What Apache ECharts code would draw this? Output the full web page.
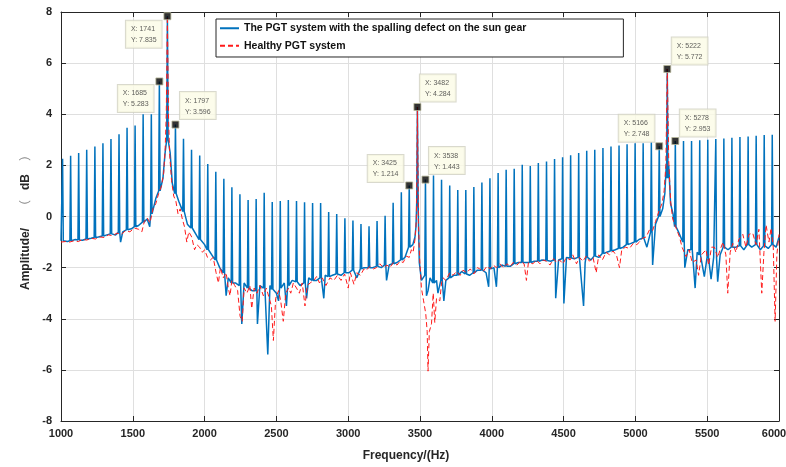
<!DOCTYPE html>
<html>
<head>
<meta charset="utf-8">
<script src="https://cdn.jsdelivr.net/npm/echarts@6/dist/echarts.min.js"></script>
<style>
html,body{margin:0;padding:0;background:#fff;}
#c{width:786px;height:467px;}
</style>
</head>
<body>
<div id="c"></div>
<script>
// ---------- DATA ----------
const xTicks = [1000,1500,2000,2500,3000,3500,4000,4500,5000,5500,6000];
const yTicks = [-8,-6,-4,-2,0,2,4,6,8];
const seriesNames = ['The PGT system with the spalling defect on the sun gear','Healthy PGT system'];

// sideband spikes of the faulty system (frequency, peak height, trough level at the spike)
const sbFreq = [1011,1067,1123,1179,1236,1292,1348,1404,1460,1516,1572,1629,1685,1741,
  1797,1853,1909,1966,2022,2078,2134,2190,2246,2303,2359,2415,2471,2527,2583,2640,2696,2752,2808,2864,2920,2977,3033,3089,3145,3201,3257,3313,3370,3425,3482,
  3538,3594,3650,3707,3763,3819,3875,3931,3987,4044,4100,4156,4212,4268,4324,4381,4437,4493,4549,4605,4661,4717,4774,4830,4886,4942,4998,5054,5111,5166,5222,
  5278,5335,5391,5448,5504,5560,5616,5672,5728,5785,5841,5897,5953];
const sbPeak = [2.26,2.38,2.48,2.61,2.74,2.87,3.03,3.22,3.47,3.56,4.0,4.0,5.283,7.835,
  3.596,3.04,2.61,2.39,2.05,1.75,1.48,1.14,0.87,0.65,0.68,0.93,0.57,0.61,0.65,0.61,0.56,0.53,0.53,0.18,0.1,-0.07,-0.16,-0.29,-0.38,-0.18,0.03,0.54,0.95,1.214,4.284,
  1.443,1.6,1.44,1.21,1.04,1.04,1.15,1.33,1.5,1.7,1.83,1.87,2.02,1.98,2.09,2.15,2.25,2.32,2.4,2.48,2.57,2.61,2.68,2.74,2.78,2.83,2.87,2.87,2.9,2.748,5.772,
  2.953,2.95,2.95,2.98,3.0,3.03,3.05,3.08,3.11,3.13,3.16,3.19,3.2];
const sbFloor = [-0.95,-0.95,-0.92,-0.88,-0.82,-0.76,-0.68,-0.62,-0.52,-0.4,-0.22,0.1,1.0,3.0,
  0.9,0.2,-0.45,-0.9,-1.3,-1.7,-2.2,-2.6,-2.7,-2.8,-2.9,-2.8,-2.85,-2.8,-2.7,-2.55,-2.6,-2.5,-2.4,-2.35,-2.25,-2.2,-2.1,-2.05,-2.0,-1.95,-1.9,-1.85,-1.7,-1.2,0.5,
  -2.3,-2.6,-2.5,-2.4,-2.3,-2.25,-2.2,-2.1,-2.05,-2.0,-1.95,-1.85,-1.8,-1.8,-1.75,-1.72,-1.7,-1.65,-1.62,-1.6,-1.6,-1.55,-1.45,-1.35,-1.25,-1.1,-1.0,-0.85,-0.6,0.0,1.5,
  -0.4,-1.0,-1.3,-1.5,-1.6,-1.6,-1.2,-1.2,-1.15,-1.1,-1.1,-1.15,-1.1];
// background of the faulty-system spectrum between the spikes [Hz, dB]
const blueNoise = [[1000,-0.95],[1045,-0.98],[1100,-0.9],[1150,-0.93],[1210,-0.85],[1260,-0.8],[1320,-0.72],[1380,-0.72],[1415,-1.0],[1430,-0.6],
  [1490,-0.48],[1540,-0.35],[1600,-0.1],[1618,-0.4],[1660,0.7],[1710,1.5],[1725,2.5],[1760,2.5],[1775,1.3],[1820,0.6],[1880,-0.3],[1940,-0.7],
  [2000,-1.1],[2050,-1.5],[2105,-2.0],[2150,-3.1],[2165,-2.4],[2215,-2.6],[2259,-4.2],[2275,-2.6],[2330,-2.9],[2368,-4.2],[2385,-2.7],[2440,-5.4],
  [2455,-2.7],[2500,-3.0],[2515,-3.3],[2555,-2.6],[2570,-3.5],[2610,-2.5],[2665,-2.7],[2710,-3.2],[2725,-2.4],[2780,-2.5],[2830,-3.2],[2840,-2.3],
  [2890,-2.3],[2950,-2.3],[3005,-2.2],[3060,-2.4],[3110,-2.0],[3170,-2.0],[3230,-2.0],[3267,-2.5],[3285,-1.9],[3340,-1.8],[3395,-1.6],[3450,-1.1],
  [3465,-0.8],[3472,-0.4],[3495,-1.8],[3510,-2.5],[3545,-3.1],[3556,-2.9],[3570,-2.4],[3615,-2.5],[3625,-3.0],[3666,-3.3],[3680,-2.5],[3735,-2.3],
  [3790,-2.15],[3845,-2.3],[3900,-2.1],[3960,-2.2],[3978,-2.75],[4015,-2.0],[4032,-2.75],[4070,-1.9],[4128,-1.95],[4185,-1.8],[4240,-1.8],
  [4295,-1.75],[4350,-1.7],[4410,-1.75],[4445,-3.2],[4465,-1.7],[4502,-3.4],[4520,-1.6],[4575,-1.65],[4639,-3.5],[4650,-1.8],[4690,-1.7],
  [4745,-1.6],[4800,-1.4],[4860,-1.3],[4915,-1.2],[4970,-1.05],[5025,-0.9],[5080,-1.2],[5120,-1.9],[5140,-0.3],[5190,0.3],[5205,0.9],[5215,2.0],
  [5232,2.0],[5245,0.5],[5262,0.1],[5300,-0.6],[5344,-2.0],[5365,-1.3],[5416,-2.8],[5430,-1.4],[5480,-2.35],[5527,-2.45],[5545,-1.6],[5573,-2.55],
  [5590,-1.5],[5645,-1.3],[5700,-1.2],[5755,-1.3],[5810,-1.2],[5870,-1.3],[5925,-1.25],[5980,-1.2],[6000,-0.8]];
// healthy system spectrum [Hz, dB]
const healthy = [[1000,-1.0],[1030,-0.98],[1060,-1.0],[1090,-0.95],[1120,-0.98],[1150,-0.9],[1180,-0.92],[1210,-0.85],[1240,-0.88],[1270,-0.8],
  [1300,-0.82],[1330,-0.72],[1360,-0.75],[1390,-0.65],[1420,-0.7],[1450,-0.55],[1480,-0.6],[1510,-0.45],[1540,-0.5],[1563,-0.6],[1580,-0.2],
  [1600,-0.05],[1620,-0.25],[1640,0.3],[1660,0.5],[1680,0.9],[1700,1.2],[1715,1.7],[1725,2.6],[1733,4.0],[1741,7.835],[1749,3.8],[1757,2.4],
  [1770,1.4],[1785,0.8],[1800,0.6],[1815,0.1],[1830,0.3],[1845,-0.1],[1860,-0.4],[1876,-1.0],[1890,-0.6],[1910,-0.8],[1930,-1.3],[1946,-1.1],
  [1965,-1.2],[1985,-1.4],[2000,-1.3],[2020,-1.6],[2040,-1.7],[2060,-1.6],[2080,-2.2],[2096,-2.6],[2110,-2.0],[2130,-2.4],[2150,-2.2],[2165,-2.8],
  [2177,-3.1],[2190,-2.5],[2210,-2.7],[2230,-2.9],[2247,-3.9],[2262,-4.1],[2275,-2.8],[2295,-3.0],[2315,-2.7],[2328,-3.6],[2345,-2.8],[2365,-3.0],
  [2385,-2.7],[2409,-3.1],[2430,-2.8],[2450,-3.2],[2465,-3.5],[2479,-4.85],[2495,-3.2],[2515,-2.9],[2530,-3.3],[2548,-4.1],[2565,-3.0],[2585,-2.8],
  [2600,-3.0],[2618,-2.6],[2640,-2.8],[2660,-3.0],[2680,-2.6],[2699,-3.5],[2715,-2.7],[2735,-2.6],[2760,-2.5],[2780,-2.35],[2800,-2.6],[2820,-2.4],
  [2845,-2.7],[2873,-2.4],[2900,-2.5],[2925,-2.3],[2950,-2.5],[2975,-2.25],[3000,-2.8],[3015,-2.2],[3040,-2.65],[3060,-2.2],[3085,-2.3],[3110,-2.05],
  [3127,-2.1],[3150,-1.95],[3175,-2.05],[3197,-2.0],[3220,-1.85],[3245,-2.0],[3270,-1.9],[3290,-2.0],[3315,-1.8],[3340,-1.9],[3360,-1.75],[3383,-1.8],
  [3405,-1.55],[3425,-1.6],[3440,-1.3],[3452,-1.4],[3465,-0.9],[3475,-0.1],[3482,4.284],[3489,-0.2],[3497,-1.6],[3510,-2.8],[3525,-3.3],[3540,-3.8],
  [3550,-4.5],[3556,-6.05],[3565,-4.5],[3580,-4.2],[3592,-3.0],[3603,-4.15],[3615,-3.2],[3638,-3.3],[3650,-2.6],[3661,-2.4],[3680,-2.5],[3707,-2.2],
  [3730,-2.3],[3755,-2.15],[3780,-2.3],[3800,-2.1],[3825,-2.2],[3850,-2.05],[3875,-2.25],[3900,-2.0],[3916,-2.05],[3940,-2.15],[3965,-1.95],
  [3990,-2.05],[4010,-1.9],[4032,-2.0],[4055,-1.85],[4080,-2.0],[4105,-1.85],[4130,-1.95],[4148,-1.8],[4175,-1.9],[4200,-1.75],[4225,-1.85],
  [4241,-2.5],[4255,-1.8],[4287,-1.85],[4310,-1.7],[4335,-1.85],[4360,-1.7],[4380,-1.75],[4405,-1.9],[4430,-1.65],[4450,-1.8],[4472,-1.7],
  [4495,-1.85],[4520,-1.6],[4545,-1.7],[4564,-1.5],[4590,-1.85],[4610,-1.6],[4635,-1.75],[4657,-1.55],[4680,-1.75],[4705,-1.6],[4727,-2.2],
  [4745,-1.5],[4770,-1.7],[4796,-1.4],[4820,-1.5],[4845,-1.35],[4870,-1.55],[4889,-2.0],[4905,-1.3],[4930,-1.2],[4959,-1.25],[4985,-1.05],
  [5010,-1.1],[5028,-1.0],[5050,-0.85],[5075,-0.8],[5098,-0.52],[5120,-0.55],[5140,-0.2],[5167,0.26],[5185,0.5],[5200,1.0],[5212,2.0],[5222,5.772],
  [5232,2.2],[5245,0.6],[5260,-0.1],[5280,-0.4],[5307,-0.8],[5325,-1.2],[5353,-1.57],[5375,-1.3],[5395,-1.8],[5423,-1.7],[5440,-2.3],[5460,-1.5],
  [5492,-1.3],[5510,-1.9],[5530,-1.2],[5550,-1.2],[5573,-1.6],[5590,-1.3],[5610,-1.0],[5630,-1.5],[5643,-3.0],[5660,-1.4],[5678,-1.05],[5700,-1.4],
  [5720,-0.9],[5748,-0.7],[5770,-1.2],[5790,-0.7],[5817,-0.65],[5840,-1.1],[5860,-0.5],[5880,-3.0],[5895,-1.4],[5910,-0.33],[5930,-1.0],[5945,-0.45],
  [5960,-1.2],[5973,-4.1],[5985,-1.5],[6000,-0.7]];
// data tips shown on the chart
const tipX = [1741,1685,1797,3425,3482,3538,5166,5222,5278];
const tipY = [7.835,5.283,3.596,1.214,4.284,1.443,2.748,5.772,2.953];

// ---------- LAYOUT (not data) ----------
const tipBoxOffset = [[-41,5],[-41,4],[5,-32],[-41,-30],[3,-32],[4,-32],[-40,-31],[5,-31],[5,-31]];
const SPIKE_HALF = 5;

// ---------- build series ----------
const bluePts = [];
sbFreq.forEach((f,i)=>{
  bluePts.push([f-SPIKE_HALF, sbFloor[i]],[f, sbPeak[i]],[f+SPIKE_HALF, sbFloor[i]]);
});
blueNoise.forEach(p=>bluePts.push(p));
bluePts.sort((a,b)=>a[0]-b[0]);

const tipData = tipX.map((x,i)=>({
  value:[x, tipY[i]],
  label:{position:[tipBoxOffset[i][0]+3.5, tipBoxOffset[i][1]+3.5]}
}));

const FONT = "'Liberation Sans', Arial, 'Noto Sans CJK SC', sans-serif";
const axisTxt = {color:'#262626', fontSize:11, fontWeight:'bold', fontFamily:FONT};
const xMax = xTicks[xTicks.length-1];

const chart = echarts.init(document.getElementById('c'), null, {renderer:'canvas'});
chart.setOption({
  animation:false,
  backgroundColor:'#fff',
  grid:{left:61, right:7, top:12, bottom:46, containLabel:false, outerBoundsMode:'none'},
  legend:{
    left:216, top:19, orient:'vertical',
    itemWidth:19, itemHeight:10, itemGap:7,
    padding:[4,97,6,3],
    borderColor:'#262626', borderWidth:1, backgroundColor:'#fff',
    itemStyle:{opacity:0},
    textStyle:{color:'#111', fontSize:10.5, fontWeight:'bold', fontFamily:FONT},
    data:seriesNames
  },
  xAxis:[{
    type:'value', min:xTicks[0], max:xMax, interval:500,
    name:'Frequency/(Hz)', nameLocation:'middle', nameGap:29,
    nameTextStyle:{color:'#262626', fontSize:12, fontWeight:'bold', fontFamily:FONT, padding:[0,28,0,0]},
    axisLine:{show:true, onZero:false, lineStyle:{color:'#262626', width:1}},
    axisTick:{show:true, inside:true, length:5, lineStyle:{color:'#262626'}},
    axisLabel:Object.assign({margin:7,
      formatter:v=> v===xMax ? '{e|'+v+'}' : String(v),
      rich:{e:{color:'#262626', fontSize:11, fontWeight:'bold', fontFamily:FONT, padding:[0,10,0,0]}}
    }, axisTxt),
    splitLine:{show:true, lineStyle:{color:'#dfdfdf', width:1}}
  },{
    type:'value', position:'top', min:xTicks[0], max:xMax, interval:500,
    axisLine:{show:true, onZero:false, lineStyle:{color:'#262626', width:1}},
    axisTick:{show:true, inside:true, length:5, lineStyle:{color:'#262626'}},
    axisLabel:{show:false}, splitLine:{show:false}
  }],
  yAxis:[{
    type:'value', min:yTicks[0], max:yTicks[yTicks.length-1], interval:2,
    name:'{a|Amplitude/}{g1|}{p|（}{g2|}{a|dB}{g3|}{p|）}{g4|}', nameLocation:'middle', nameGap:27,
    nameTextStyle:{
      color:'#262626', fontSize:12, fontWeight:'bold', fontFamily:FONT,
      rich:{
        a:{color:'#262626', fontSize:12, fontWeight:'bold', fontFamily:FONT},
        p:{color:'#888', fontSize:12, fontWeight:'normal', fontFamily:"'Noto Sans CJK SC', sans-serif"},
        g1:{width:16}, g2:{width:10}, g3:{width:13}, g4:{width:6}
      }
    },
    axisLine:{show:true, onZero:false, lineStyle:{color:'#262626', width:1}},
    axisTick:{show:true, inside:true, length:5, lineStyle:{color:'#262626'}},
    axisLabel:Object.assign({margin:9}, axisTxt),
    splitLine:{show:true, lineStyle:{color:'#dfdfdf', width:1}}
  },{
    type:'value', position:'right', min:yTicks[0], max:yTicks[yTicks.length-1], interval:2,
    axisLine:{show:true, onZero:false, lineStyle:{color:'#262626', width:1}},
    axisTick:{show:true, inside:true, length:5, lineStyle:{color:'#262626'}},
    axisLabel:{show:false}, splitLine:{show:false}
  }],
  series:[{
    name:seriesNames[0], type:'line', data:bluePts, showSymbol:false, symbol:'none',
    sampling:null, z:2,
    lineStyle:{color:'#0072BD', width:1.5}, itemStyle:{color:'#0072BD'}
  },{
    name:seriesNames[1], type:'line', data:healthy, showSymbol:false, symbol:'none', z:3,
    lineStyle:{color:'#ff1a1a', width:1, type:[5,3]}, itemStyle:{color:'#ff1a1a'}
  },{
    name:'tips', type:'scatter', data:tipData, symbol:'rect', symbolSize:7, z:6,
    itemStyle:{color:'#000', borderColor:'#b8b89a', borderWidth:1},
    label:{
      show:true,
      formatter:p=>'X: '+p.value[0]+'\nY: '+p.value[1],
      fontSize:7, lineHeight:11, color:'#333', fontFamily:FONT,
      backgroundColor:'#fbfbe6', borderColor:'#cfcfc0', borderWidth:1,
      padding:[3,5,2,5], align:'left', verticalAlign:'top'
    },
    emphasis:{disabled:true}
  }]
});
</script>
</body>
</html>
